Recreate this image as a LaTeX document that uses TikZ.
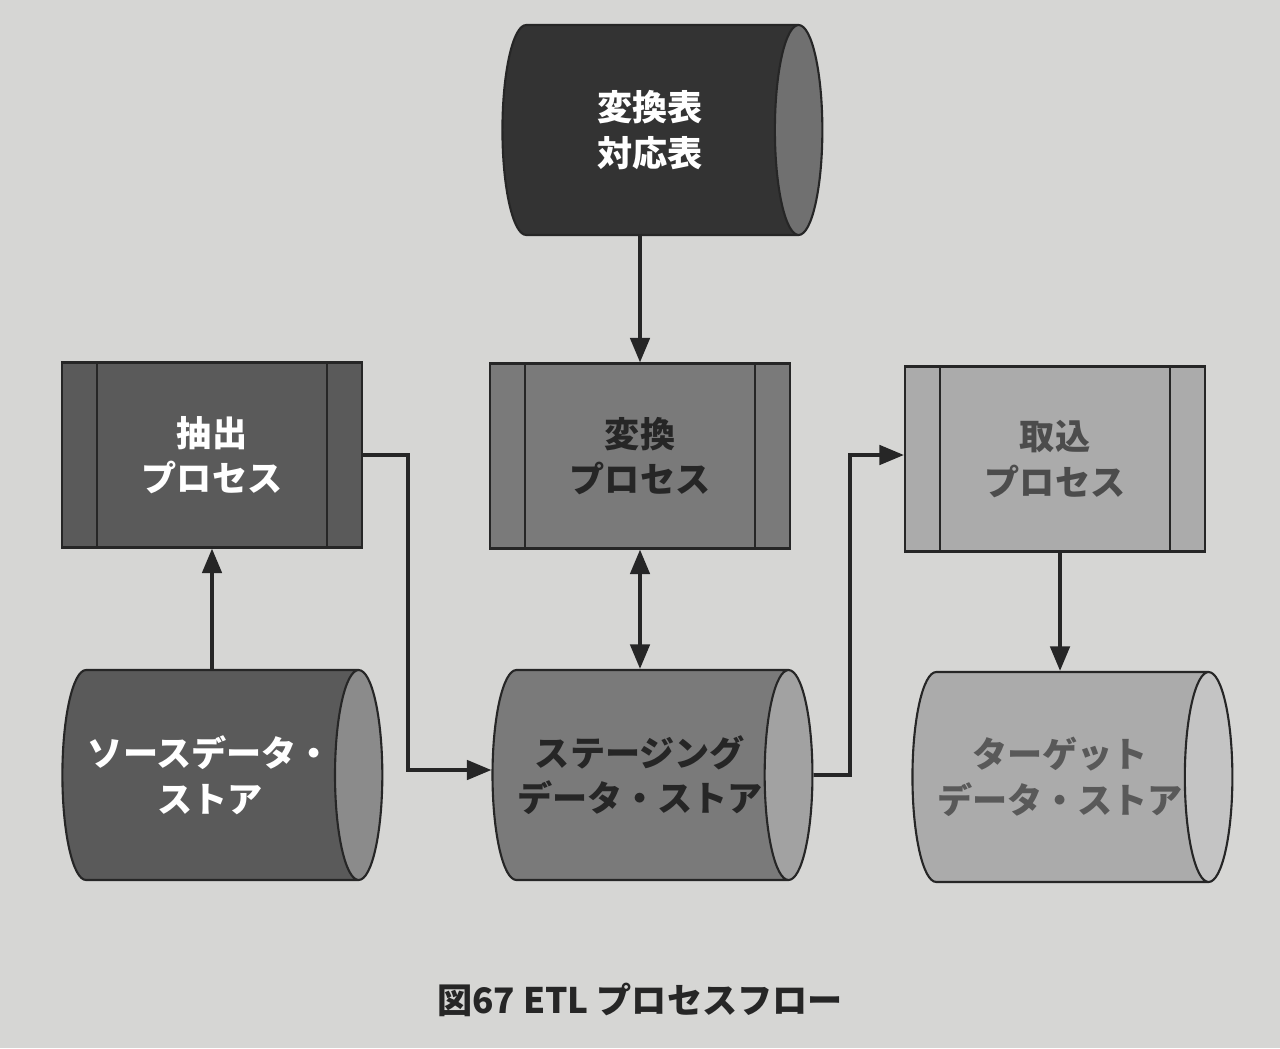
\documentclass[tikz,border=0pt]{standalone}
\usepackage{fontspec}
\setmainfont{Noto Sans CJK JP}
\usetikzlibrary{shapes.geometric, arrows.meta}

\definecolor{paper}{HTML}{D6D6D4}
\definecolor{tone1}{HTML}{333333}
\definecolor{tone2}{HTML}{5A5A5A}
\definecolor{tone3}{HTML}{7A7A7A}
\definecolor{tone4}{HTML}{ABABAB}

\begin{document}
\begin{tikzpicture}[x=0.02cm,y=-0.02cm,
    flow/.style={line width=2.2pt,draw=black!85,-{Triangle[length=14pt,width=11pt]}},
    store/.style={cylinder,draw=black!85,line width=1.2pt,shape aspect=0.6,
      minimum width=4.2cm,minimum height=6.4cm,inner sep=0pt,
      cylinder uses custom fill,cylinder body fill=#1,cylinder end fill=#1!70!white,
      font=\fontsize{20}{26}\selectfont\bfseries,align=center},
    proc/.style={rectangle,draw=black!85,line width=1.2pt,fill=#1,
      minimum width=6cm,minimum height=3.7cm,inner sep=0pt,
      font=\fontsize{20}{26}\selectfont\bfseries,align=center,
      path picture={
        \draw[black!85,line width=0.8pt]
          ([xshift=0.7cm]path picture bounding box.north west) -- ([xshift=0.7cm]path picture bounding box.south west)
          ([xshift=-0.7cm]path picture bounding box.north east) -- ([xshift=-0.7cm]path picture bounding box.south east);}}]

\fill[paper] (0,0) rectangle (1280,1048);

\node[store=tone1,text=white] (MAP)    at (650,130) {変換表\\対応表};
\node[proc=tone2,text=white]  (EXTR)   at (212,455) {抽出\\プロセス};
\node[proc=tone3,text=black!85]  (TRANS)  at (640,456) {変換\\プロセス};
\node[proc=tone4,text=black!70]  (LOAD)   at (1055,459) {取込\\プロセス};
\node[store=tone2,text=white] (SRC)    at (210,775) {ソースデータ・\\ストア};
\node[store=tone3,text=black!85] (STAGE) at (640,775) {ステージング\\データ・ストア};
\node[store=tone4,text=black!65] (TGT)   at (1060,777) {ターゲット\\データ・ストア};

\coordinate (A1) at (408,455);
\coordinate (A2) at (408,770);
\coordinate (B1) at (850,775);
\coordinate (B2) at (850,455);

\draw[flow] (MAP.south -| TRANS.north) -- (TRANS.north);
\draw[flow,{Triangle[length=14pt,width=11pt]}-{Triangle[length=14pt,width=11pt]}] (TRANS.south) -- (STAGE.north -| TRANS.south);
\draw[flow] (SRC.north -| EXTR.south) -- (EXTR.south);
\draw[flow] (EXTR.east |- A1) -- (A1) -- (A2) -- (STAGE.west |- A2);
\draw[flow] (STAGE.east |- B1) -- (B1) -- (B2) -- (LOAD.west |- B2);
\draw[flow] (LOAD.south -| TGT.north) -- (TGT.north);

\node[font=\fontsize{20}{24}\selectfont\bfseries,text=black!85] (CAP) at (640,1000) {図67 ETL プロセスフロー};
\end{tikzpicture}
\end{document}
